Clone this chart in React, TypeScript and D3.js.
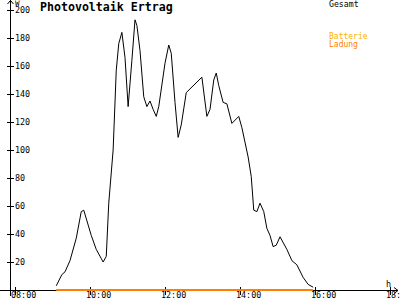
import React from "react";
import * as d3 from "d3";

const title = "Photovoltaik Ertrag";
const yTicks = [20, 40, 60, 80, 100, 120, 140, 160, 180, 200];
const xTickMinutes = [480, 600, 720, 840, 960, 1080];
const xTickLabels = ["08:00", "10:00", "12:00", "14:00", "16:00", "18:00"];

// Gesamt (total) power, minutes since midnight and watts
const gesamtMinutes = [546, 555, 560, 568, 578, 586, 590, 602, 610, 621, 626, 630, 637, 642, 646, 651, 656, 661, 667, 672, 675, 680, 686, 691, 696, 701, 706, 710, 720, 726, 730, 736, 741, 746, 754, 779, 787, 792, 798, 802, 806, 813, 819, 827, 838, 843, 853, 858, 862, 867, 872, 878, 883, 888, 893, 898, 904, 915, 923, 931, 941, 949, 957];
const gesamtValues = [3, 11, 13, 21, 37, 56, 57, 39, 29, 20, 24, 62, 100, 157, 176, 184, 166, 131, 164, 193, 189, 171, 138, 131, 135, 129, 124, 131, 162, 175, 169, 134, 109, 118, 141, 152, 124, 129, 150, 155, 146, 134, 133, 119, 124, 116, 95, 81, 57, 56, 62, 56, 44, 39, 31, 32, 38, 29, 21, 18, 9, 4, 2];

// Batterie Ladung (charge) series
const ladungMinutes = [546, 957];
const ladungValues = [0, 0];

const legendLabels = ["Gesamt", "Batterie", "Ladung"];
const legendColors = ["#000000", "#FFB000", "#FF8000"];

export default function App() {
  const width = 400;
  const height = 300;
  const x = d3.scaleLinear().domain([480, 1080]).range([15, 390]);
  const y = d3.scaleLinear().domain([0, 200]).range([290, 10]);
  const line = d3
    .line<number>()
    .x((_, i) => x(gesamtMinutes[i]))
    .y((d) => y(d));
  const lLine = d3
    .line<number>()
    .x((_, i) => x(ladungMinutes[i]))
    .y((d) => y(d));
  const font = "DejaVu Sans Mono, monospace";
  return (
    <svg
      width={width}
      height={height}
      style={{ position: "absolute", left: 0, top: 0, background: "#fff" }}
      fontFamily={font}
    >
      <rect x={0} y={0} width={width} height={height} fill="#fff" />
      {/* axes */}
      <g shapeRendering="crispEdges" stroke="#000" strokeWidth={1}>
        <line x1={10.5} y1={0} x2={10.5} y2={296} />
        <line x1={0} y1={290.5} x2={398} y2={290.5} />
        {yTicks.map((t) => (
          <line key={t} x1={7} x2={14} y1={Math.round(y(t)) + 0.5} y2={Math.round(y(t)) + 0.5} />
        ))}
        {xTickMinutes.map((t) => (
          <line key={t} x1={Math.round(x(t)) + 0.5} x2={Math.round(x(t)) + 0.5} y1={287} y2={295} />
        ))}
      </g>
      {/* arrows */}
      <path d="M7.5,4 L10.5,0.5 L13.5,4" fill="none" stroke="#000" strokeWidth={1} />
      <path d="M394,287.5 L398,290.5 L394,293.5" fill="none" stroke="#000" strokeWidth={1} />
      {/* y tick labels */}
      {yTicks.map((t) => (
        <text key={t} x={15} y={y(t) + 3} fontSize={8.4} fill="#000">
          {t}
        </text>
      ))}
      {/* x tick labels */}
      {xTickMinutes.map((t, i) => (
        <text key={t} x={x(t) - 4} y={298} fontSize={8.4} fill="#000">
          {xTickLabels[i]}
        </text>
      ))}
      <text x={15} y={5.5} fontSize={7.5} fill="#000">W</text>
      <text x={386} y={287} fontSize={8.4} fill="#000">h</text>
      {/* title */}
      <text x={40} y={11} fontSize={11.6} fontWeight="bold" fill="#000">
        {title}
      </text>
      {/* legend */}
      <text x={329} y={7} fontSize={8.2} fill={legendColors[0]}>{legendLabels[0]}</text>
      <text x={329} y={38.5} fontSize={8} fill={legendColors[1]}>{legendLabels[1]}</text>
      <text x={329} y={47} fontSize={8} fill={legendColors[2]}>{legendLabels[2]}</text>
      {/* series */}
      <path d={lLine(ladungValues) || ""} fill="none" stroke={legendColors[2]} strokeWidth={2} />
      <path d={line(gesamtValues) || ""} fill="none" stroke="#000" strokeWidth={1} />
    </svg>
  );
}
